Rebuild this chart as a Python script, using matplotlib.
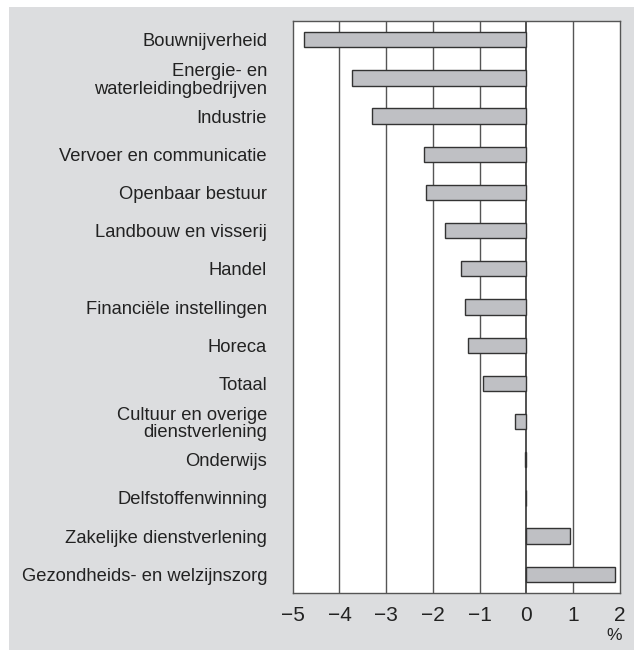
import matplotlib
matplotlib.use("Agg")
import matplotlib.pyplot as plt
from matplotlib.patches import Rectangle

plt.rcParams['font.family'] = ['Liberation Sans', 'DejaVu Sans']

# sectoren, van boven naar beneden
sectoren = [
    "Bouwnijverheid",
    "Energie- en\nwaterleidingbedrijven",
    "Industrie",
    "Vervoer en communicatie",
    "Openbaar bestuur",
    "Landbouw en visserij",
    "Handel",
    "Financiële instellingen",
    "Horeca",
    "Totaal",
    "Cultuur en overige\ndienstverlening",
    "Onderwijs",
    "Delfstoffenwinning",
    "Zakelijke dienstverlening",
    "Gezondheids- en welzijnszorg",
]
waarden = [-4.75, -3.73, -3.31, -2.20, -2.15, -1.75, -1.41, -1.31, -1.26,
           -0.93, -0.24, -0.04, 0.0, 0.94, 1.90]
xticks = [-5, -4, -3, -2, -1, 0, 1, 2]

fig = plt.figure(figsize=(6.34, 6.5), dpi=100)
fig.patch.set_facecolor("white")
# grijze achtergrond
fig.patches.append(Rectangle((9 / 634, 0), 1 - 9 / 634, 1 - 7 / 650,
                             transform=fig.transFigure, facecolor="#dcdddf",
                             edgecolor="none", zorder=-10))

ax = fig.add_axes([292.7 / 634, 1 - 593.3 / 650, (620 - 292.7) / 634,
                   (593.3 - 20.7) / 650])
ax.set_facecolor("white")

pos = list(range(len(sectoren)))
ax.barh(pos, waarden, height=0.4, color="#bfc0c4", edgecolor="#333333",
        linewidth=1.0, zorder=3)

ax.set_xlim(-5, 2)
ax.set_ylim(14.5, -0.5)
ax.set_xticks(xticks)
ax.set_xticklabels([str(t).replace("-", "\u2212") for t in xticks], fontsize=15)
ax.set_yticks(pos)
ax.set_yticklabels(sectoren, fontsize=13.2, linespacing=1.05, color="#222222")
ax.tick_params(length=0)
ax.tick_params(axis="y", pad=18.5)
ax.tick_params(axis="x", pad=9, labelcolor="#222222")

for t in xticks[1:-1]:
    ax.axvline(t, color="#222222" if t == 0 else "#555555",
               linewidth=1.1 if t == 0 else 1.0, zorder=2)
for s in ax.spines.values():
    s.set_color("#555555")
    s.set_linewidth(1.0)

fig.text(614 / 634, 1 - 636 / 650, "%", fontsize=12.5, ha="center", va="center",
         color="#222222")

fig.savefig("out.png", dpi=100)
